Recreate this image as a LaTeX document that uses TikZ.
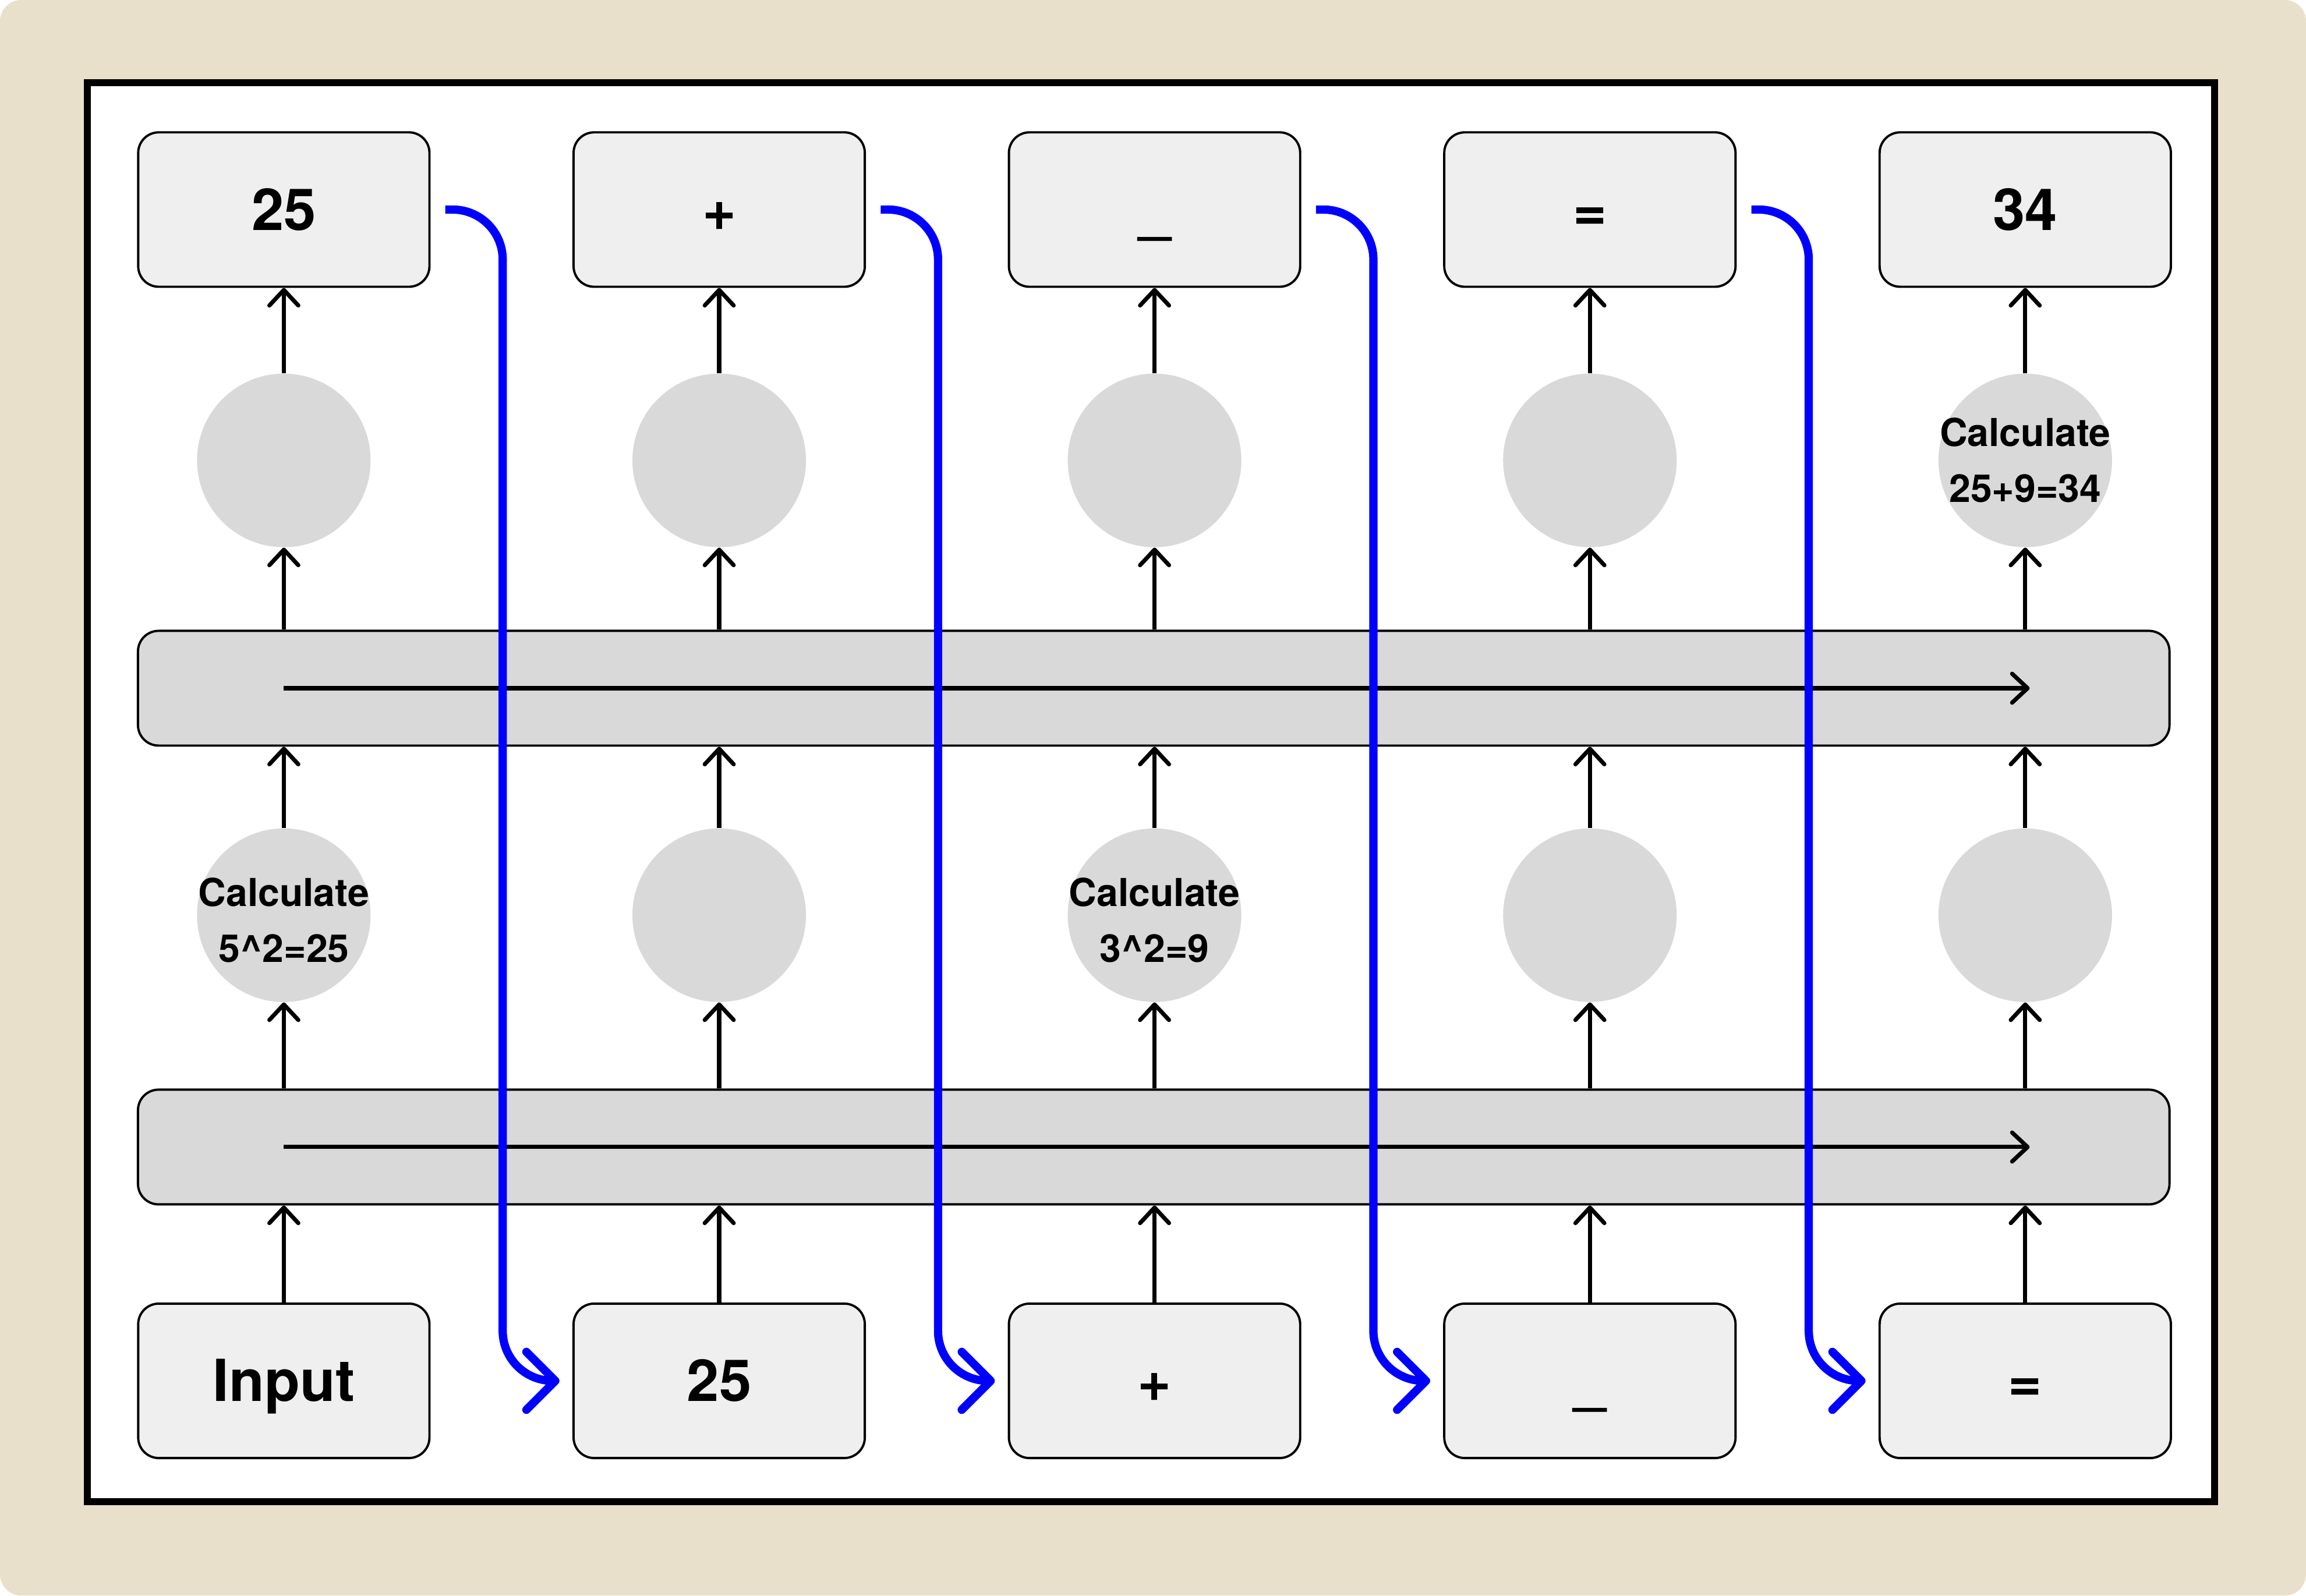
\documentclass[tikz,border=0pt]{standalone}
\usepackage{fontspec}
\setmainfont{TeX Gyre Heros}
\usetikzlibrary{arrows.meta,positioning}
\definecolor{paper}{HTML}{E8E0CA}
\definecolor{boxgray}{HTML}{EFEFEF}
\definecolor{unitgray}{HTML}{D9D9D9}

\begin{document}
\begin{tikzpicture}[x=0.025cm,y=-0.025cm]
  \tikzstyle{box}=[draw,line width=1.1pt,rounded corners=0.35cm,fill=boxgray,minimum width=4.95cm,minimum height=2.625cm,inner sep=0pt,text height=20pt,text depth=0pt,font=\fontsize{28}{34}\selectfont\bfseries]
  \tikzstyle{unit}=[circle,fill=unitgray,minimum size=2.95cm,inner sep=0pt]
  \tikzstyle{calc}=[align=center,font=\fontsize{18.6}{27}\selectfont\bfseries]
  \tikzstyle{layer}=[draw,line width=1.1pt,rounded corners=0.35cm,fill=unitgray,minimum width=34.525cm,minimum height=1.95cm]
  \tikzstyle{flow}=[line width=2pt,-{Straight Barb[length=7.5pt,width=14pt,round]}]
  \tikzstyle{carry}=[draw=blue,line width=4pt,rounded corners=0.85cm,-{Straight Barb[length=14pt,width=28pt,round]}]
  \useasboundingbox (0,0) rectangle (1568,1085);
  \fill[paper,rounded corners=0.36cm] (0,0) rectangle (1568,1085);
  \draw[line width=3.4pt,fill=white] (59.5,56.2) rectangle (1506,1021);
  % input row
  \node[box] (in1) at (193,939) {Input};
  \node[box,right=2.41cm of in1] (in2) {25};
  \node[box,right=2.41cm of in2] (in3) {+};
  \node[box,right=2.41cm of in3] (in4) {\_};
  \node[box,right=2.41cm of in4] (in5) {=};
  % output row
  \node[box] (out1) at (193,142.5) {25};
  \node[box,right=2.41cm of out1] (out2) {+};
  \node[box,right=2.41cm of out2] (out3) {\_};
  \node[box,right=2.41cm of out3] (out4) {=};
  \node[box,right=2.41cm of out4] (out5) {34};
  % layers
  \node[layer] (lay1) at (784.5,780) {};
  \node[layer] (lay2) at (784.5,468) {};
  % units of the lower layer
  \node[unit,above=5.1cm of in1,label={[calc,yshift=-0.08cm]center:Calculate\\5\textasciicircum2=25}] (lo1) {};
  \node[unit,above=5.1cm of in2] (lo2) {};
  \node[unit,above=5.1cm of in3,label={[calc,yshift=-0.08cm]center:Calculate\\3\textasciicircum2=9}] (lo3) {};
  \node[unit,above=5.1cm of in4] (lo4) {};
  \node[unit,above=5.1cm of in5] (lo5) {};
  % units of the upper layer
  \node[unit,below=1.45cm of out1] (hi1) {};
  \node[unit,below=1.45cm of out2] (hi2) {};
  \node[unit,below=1.45cm of out3] (hi3) {};
  \node[unit,below=1.45cm of out4] (hi4) {};
  \node[unit,below=1.45cm of out5,label={[calc]center:Calculate\\25+9=34}] (hi5) {};
  \foreach \i in {1,...,5} {
    \draw[flow] (in\i) -- (in\i |- lay1.south);
    \draw[flow] (in\i |- lay1.north) -- (lo\i);
    \draw[flow] (lo\i) -- (lo\i |- lay2.south);
    \draw[flow] (lo\i |- lay2.north) -- (hi\i);
    \draw[flow] (hi\i) -- (out\i);
  }
  \draw[flow] (lay1.center -| in1) -- ([xshift=0.075cm]lay1.center -| in5);
  \draw[flow] (lay2.center -| in1) -- ([xshift=0.075cm]lay2.center -| in5);
  % token passed on to the next position
  \draw[carry] ([xshift=0.25cm]out1.east) -| ([xshift=1.225cm]out1.east |- in2.west) -- ([xshift=-0.22cm]in2.west);
  \draw[carry] ([xshift=0.25cm]out2.east) -| ([xshift=1.225cm]out2.east |- in3.west) -- ([xshift=-0.22cm]in3.west);
  \draw[carry] ([xshift=0.25cm]out3.east) -| ([xshift=1.225cm]out3.east |- in4.west) -- ([xshift=-0.22cm]in4.west);
  \draw[carry] ([xshift=0.25cm]out4.east) -| ([xshift=1.225cm]out4.east |- in5.west) -- ([xshift=-0.22cm]in5.west);
\end{tikzpicture}
\end{document}
